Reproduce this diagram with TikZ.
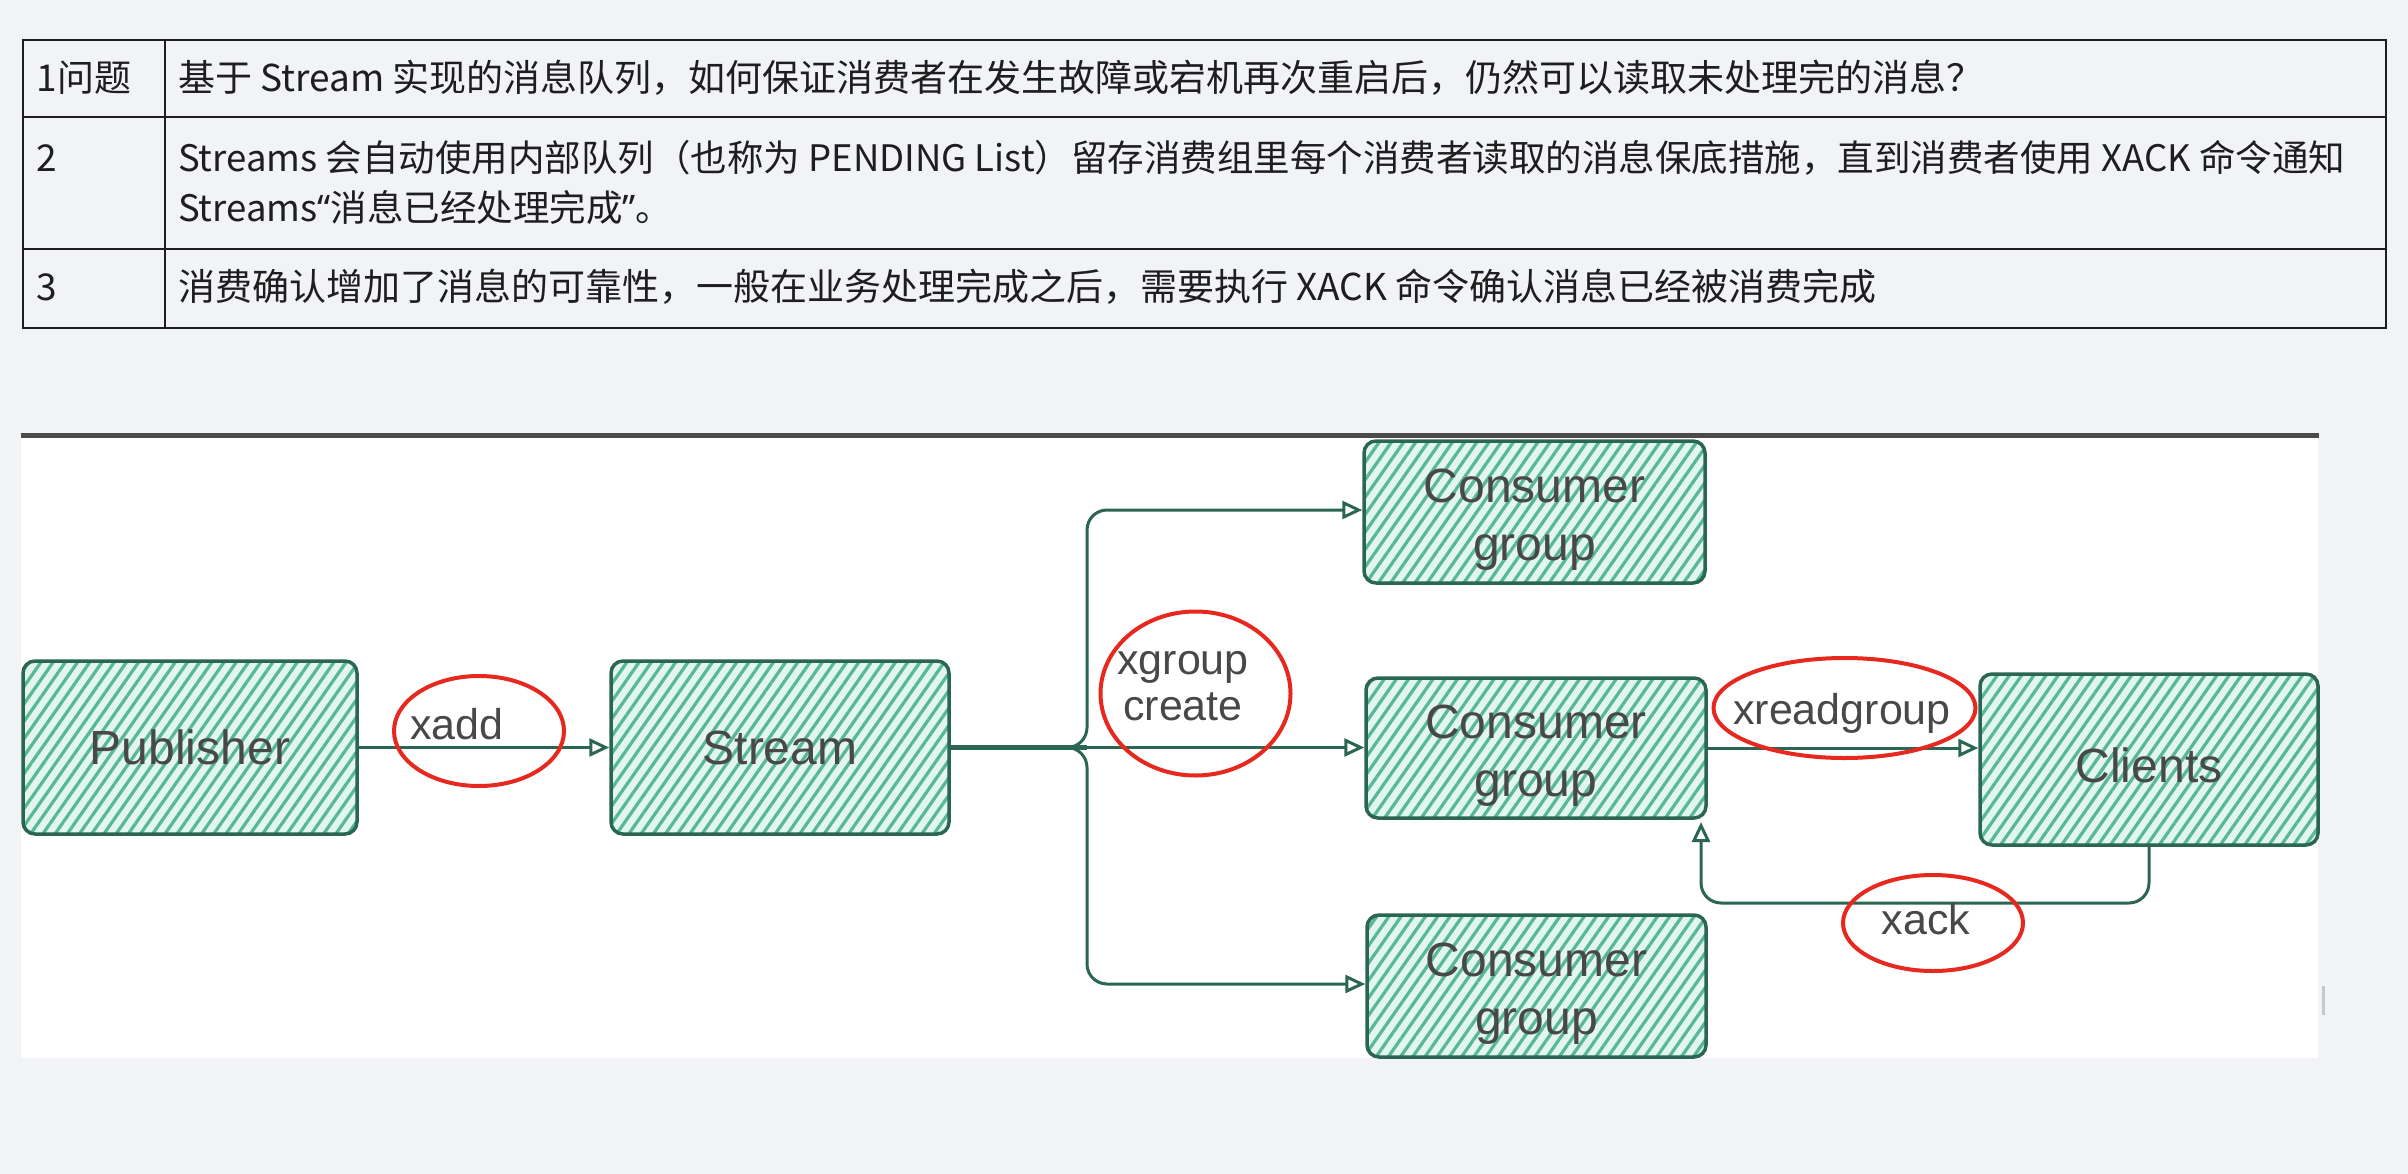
\documentclass[tikz,border=0pt]{standalone}
\usepackage{fontspec}
\setmainfont{Liberation Sans}
\newfontfamily\cjk{Noto Sans CJK SC}
\newfontfamily\latq{Noto Sans}
\usetikzlibrary{patterns.meta,arrows.meta,shapes.geometric}
\definecolor{pagebg}{RGB}{242,243,247}
\definecolor{boxline}{RGB}{42,102,82}
\definecolor{hatch}{RGB}{86,184,148}
\definecolor{mint}{RGB}{226,246,239}
\definecolor{ringred}{RGB}{230,40,30}
\definecolor{labelgray}{RGB}{72,72,72}
\definecolor{tabtext}{RGB}{30,30,30}
\definecolor{panelline}{RGB}{75,75,75}
\definecolor{scrollgray}{RGB}{200,200,200}
\begin{document}
\begin{tikzpicture}[x=1pt,y=-1pt,
  sketchbox/.style={draw=boxline, line width=3.5pt, rounded corners=12pt,
    preaction={fill=mint},
    pattern={Lines[angle=55,distance=10pt,line width=3.2pt]}, pattern color=hatch,
    font=\fontsize{48}{58}\selectfont, text=labelgray, align=center, inner sep=0pt},
  conn/.style={draw=boxline, line width=3pt,
    -{Triangle[open, length=20pt, width=18pt, line width=3pt]}},
  ring/.style={draw=ringred, line width=4pt, ellipse, inner sep=0pt},
  lbl/.style={font=\fontsize{43}{46}\selectfont, text=labelgray, inner sep=0pt, anchor=base, align=center},
  tabcell/.style={font=\cjk\fontsize{37}{50}\selectfont, text=tabtext, inner sep=0pt, anchor=base west, align=left},
  tabrule/.style={draw=tabtext, line width=2pt}
]
\useasboundingbox (0,0) rectangle (2408,1174);
\fill[pagebg] (0,0) rectangle (2408,1174);

% ---------------- table ----------------
\draw[tabrule] (23,40) rectangle (2386,328);
\draw[tabrule] (23,117.5) -- (2386,117.5);
\draw[tabrule] (23,249.5) -- (2386,249.5);
\draw[tabrule] (164.5,40) -- (164.5,328);
\node[tabcell] (c11) at (36.5,92) {1问题};
\node[tabcell] (c12) at (178,92) {基于 Stream 实现的消息队列，如何保证消费者在发生故障或宕机再次重启后，仍然可以读取未处理完的消息？};
\node[tabcell] (c21) at (36.5,171.5) {2};
\node[tabcell, font=\cjk\fontsize{36.5}{50}\selectfont] (c22) at (178,221.7) {Streams 会自动使用内部队列（也称为 PENDING List）留存消费组里每个消费者读取的消息保底措施，直到消费者使用 XACK 命令通知\\Streams{\latq “}消息已经处理完成{\latq ”}。};
\node[tabcell] (c31) at (36.5,300) {3};
\node[tabcell] (c32) at (178,300) {消费确认增加了消息的可靠性，一般在业务处理完成之后，需要执行 XACK 命令确认消息已经被消费完成};

% ---------------- panel ----------------
\fill[white] (21,436) rectangle (2318,1058);
\draw[panelline, line width=5pt] (21,435.5) -- (2319,435.5);
\draw[scrollgray, line width=3pt] (2323,986) -- (2323,1015);

% ---------------- boxes ----------------
\node[sketchbox, minimum width=334pt, minimum height=173pt] (pub) at (190,747.5) {Publisher};
\node[sketchbox, minimum width=338pt, minimum height=173pt] (stream) at (780,747.5) {Stream};
\node[sketchbox, minimum width=341pt, minimum height=142pt] (cg1) at (1534.5,512) {\rule{0pt}{49pt}Consumer\\group};
\node[sketchbox, minimum width=340pt, minimum height=140pt] (cg2) at (1536,748) {\rule{0pt}{49pt}Consumer\\group};
\node[sketchbox, minimum width=339pt, minimum height=142pt] (cg3) at (1536.5,986) {\rule{0pt}{49pt}Consumer\\group};
\node[sketchbox, minimum width=338pt, minimum height=171pt] (clients) at (2149,759.5) {\rule{0pt}{46pt}Clients};

% ---------------- connectors ----------------
\coordinate (brtop) at (1087,510);
\coordinate (brbot) at (1087,984);
\coordinate (ackbase) at (1701,903);
\coordinate (ackend) at (1701,822);

\draw[conn] (pub.east) -- (stream.west);
\draw[draw=boxline, line width=5pt] (stream.east) -- (1087,747.5);
\draw[conn] (stream.east) -- (stream.east -| cg2.west);
\draw[conn, rounded corners=20pt] (stream.east) -| (brtop) -- (brtop -| cg1.west);
\draw[conn, rounded corners=20pt] (stream.east) -| (brbot) -- (brbot -| cg3.west);
\draw[conn] (cg2.east) -- (cg2.east -| clients.west);
\draw[conn, rounded corners=20pt] (clients.south) |- (ackbase) -- (ackend);

% ---------------- red rings and labels ----------------
\node[ring, minimum width=170pt, minimum height=110pt] (ringadd) at (479,731) {};
\node[ring, minimum width=190pt, minimum height=164pt] (ringgroup) at (1195.5,693.5) {};
\node[ring, minimum width=262pt, minimum height=100pt] (ringread) at (1844.5,708) {};
\node[ring, minimum width=180pt, minimum height=96pt] (ringack) at (1933,923) {};

\node[lbl] (lxadd) at (457,739) {xadd};
\node[lbl] (lxgroup) at (1183,720.5) {xgroup\\create};
\node[lbl] (lxread) at (1842,724.5) {xreadgroup};
\node[lbl] (lxack) at (1926,934) {xack};
\end{tikzpicture}
\end{document}
